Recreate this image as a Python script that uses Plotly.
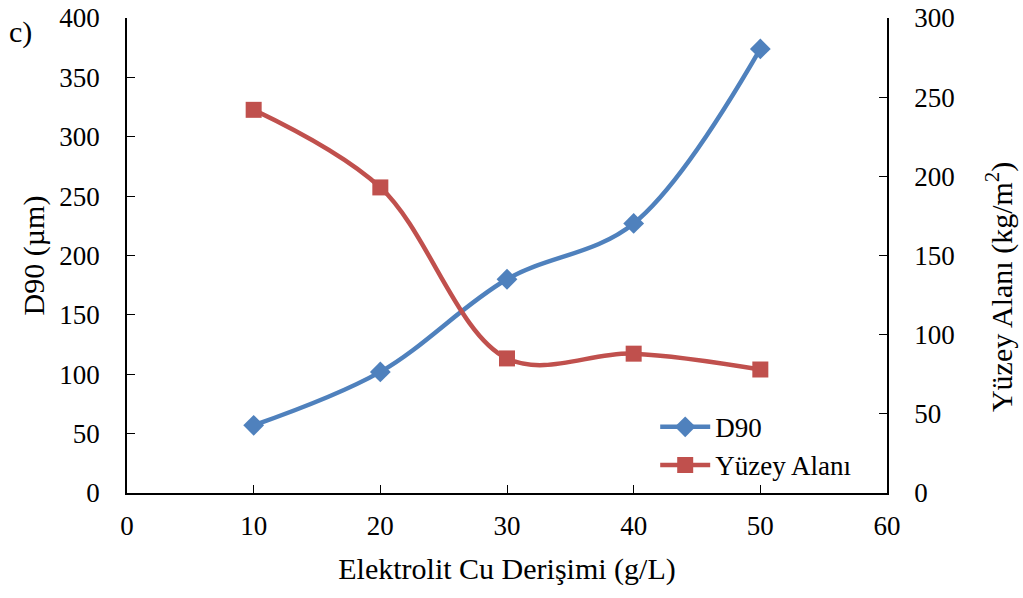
import plotly.graph_objects as go

# Electrolyte Cu concentration (g/L)
cu_conc = [10, 20, 30, 40, 50]
# D90 particle size (µm)
d90 = [57, 102, 180, 227, 374]
# Surface area (kg/m²)
surface_area = [242, 193, 85, 88, 78]

blue = "#4F81BD"
red = "#C0504D"
font_family = "Liberation Serif, Times New Roman, serif"

fig = go.Figure()
fig.add_trace(go.Scatter(
    x=cu_conc, y=d90, name="D90", mode="lines+markers",
    line=dict(color=blue, width=4.5, shape="spline", smoothing=1),
    marker=dict(symbol="diamond", size=16, color=blue),
    yaxis="y",
))
fig.add_trace(go.Scatter(
    x=cu_conc, y=surface_area, name="Yüzey Alanı", mode="lines+markers",
    line=dict(color=red, width=4.5, shape="spline", smoothing=1),
    marker=dict(symbol="square", size=16, color=red),
    yaxis="y2",
))

axis_common = dict(
    showgrid=False, zeroline=False, showline=True, linecolor="black",
    linewidth=1.5, ticks="inside", ticklen=8, tickcolor="black",
    tickfont=dict(family=font_family, size=27, color="black"),
    automargin=False,
)

fig.update_layout(
    width=1023, height=598,
    margin=dict(l=127, r=136, t=18, b=105),
    paper_bgcolor="white", plot_bgcolor="white",
    font=dict(family=font_family, color="black"),
    xaxis=dict(
        range=[0, 60], tickvals=[0, 10, 20, 30, 40, 50, 60],
        ticklabelstandoff=8,
        title=dict(text="Elektrolit Cu Derişimi (g/L)",
                   font=dict(family=font_family, size=30), standoff=18),
        **axis_common,
    ),
    yaxis=dict(
        range=[0, 400], tickvals=list(range(0, 401, 50)),
        ticklabelstandoff=20,
        title=dict(text="D90 (µm)", font=dict(family=font_family, size=30),
                   standoff=6),
        **axis_common,
    ),
    yaxis2=dict(
        range=[0, 300], tickvals=list(range(0, 301, 50)),
        overlaying="y", side="right", ticklabelstandoff=20,
        **axis_common,
    ),
    legend=dict(
        x=0.695, y=0.19, xanchor="left", yanchor="top",
        bgcolor="rgba(0,0,0,0)", font=dict(family=font_family, size=27),
        tracegroupgap=0, itemwidth=50,
    ),
    annotations=[
        dict(
            text="c)", xref="paper", yref="paper", x=-0.158, y=0.97,
            xanchor="left", yanchor="middle", showarrow=False,
            font=dict(family=font_family, size=30),
        ),
        # right-axis title
        dict(
            text="Yüzey Alanı (kg/m<sup>2</sup>)", xref="paper", yref="paper",
            x=1.149, y=0.434, xanchor="center", yanchor="middle",
            textangle=-90, showarrow=False,
            font=dict(family=font_family, size=30),
        ),
    ],
)

fig.write_html("out.html")
